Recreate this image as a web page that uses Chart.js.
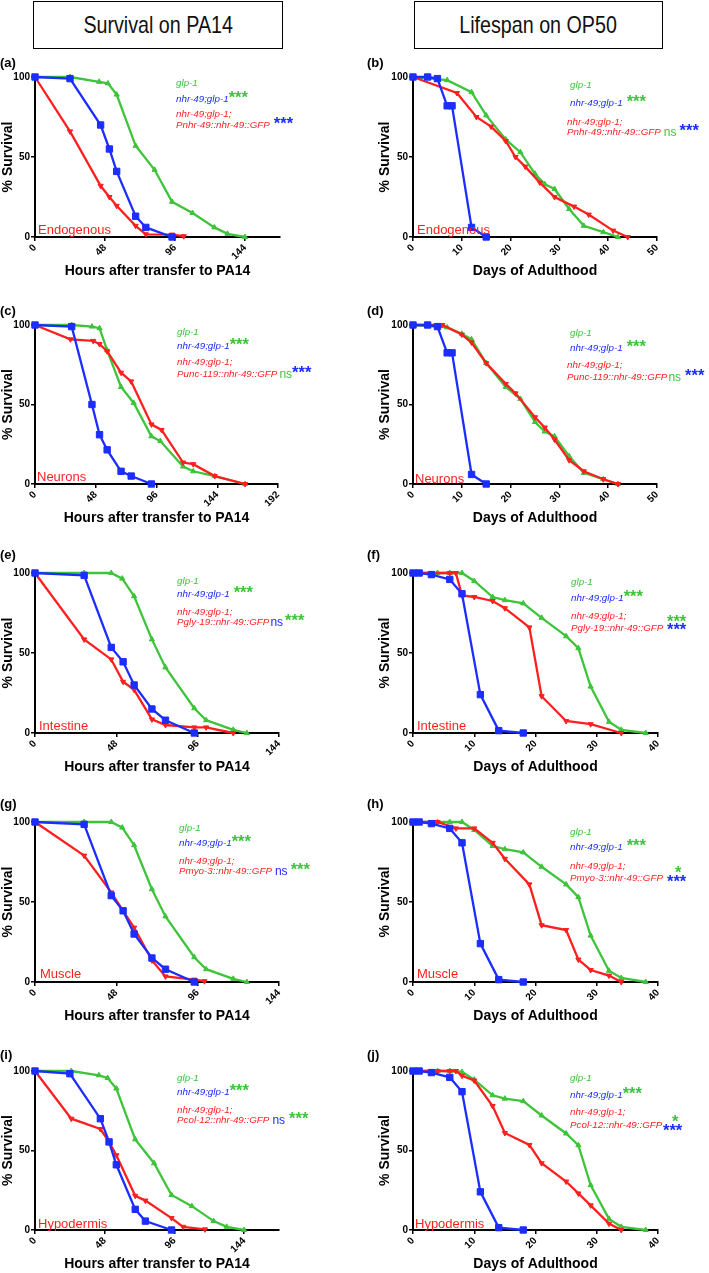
<!DOCTYPE html>
<html><head><meta charset="utf-8">
<script src="https://cdn.jsdelivr.net/npm/chart.js@4/dist/chart.umd.min.js"></script>
<style>
body{margin:0;width:709px;height:1273px;background:#fff;position:relative;overflow:hidden;font-family:"Liberation Sans",Arial,sans-serif;}
.hdr{position:absolute;box-sizing:border-box;border:1.5px solid #000;display:flex;align-items:center;justify-content:center;}
.hdr span{display:inline-block;font-family:"Liberation Sans",Arial,sans-serif;font-size:24px;color:#111;transform:scaleX(0.82);white-space:nowrap;}
canvas{position:absolute;}
.p{position:absolute;white-space:nowrap;line-height:1;}
.lg{font-style:italic;font-size:9.8px;}
.st{font-weight:bold;font-size:16.5px;}
.ns{font-size:12px;}
.tis{font-size:13px;color:#ff1f1f;}
.pl{font-size:13px;font-weight:bold;color:#000;}
</style>
</head><body>
<div class="hdr" style="left:33px;top:1px;width:250px;height:48px;"><span>Survival on PA14</span></div>
<div class="hdr" style="left:414px;top:1px;width:249px;height:48px;"><span>Lifespan on OP50</span></div>
<script>
// ---------------- data ----------------
const PA14_TICKS_144 = [0, 48, 96, 144];
const PA14_TICKS_192 = [0, 48, 96, 144, 192];
const OP50_TICKS_50 = [0, 10, 20, 30, 40, 50];
const OP50_TICKS_40 = [0, 10, 20, 30, 40];
const Y_TICKS = [0, 50, 100];

const STRAINS = ['glp-1', 'nhr-49;glp-1', 'nhr-49;glp-1;'];
const TISSUES = ['Endogenous', 'Neurons', 'Intestine', 'Muscle', 'Hypodermis'];
const TRANSGENES = ['Pnhr-49::nhr-49::GFP', 'Punc-119::nhr-49::GFP', 'Pgly-19::nhr-49::GFP', 'Pmyo-3::nhr-49::GFP', 'Pcol-12::nhr-49::GFP'];

// (a) PA14, endogenous
const A_GLP1_X = [0, 24, 44, 50, 56, 69, 82, 94, 108, 123, 132, 144];
const A_GLP1_Y = [100, 100, 97, 96, 89, 57, 42, 22, 15, 6, 2, 0];
const A_NHR_X = [0, 24, 45, 51, 56, 69, 76, 94];
const A_NHR_Y = [100, 99, 70, 55, 41, 13, 6, 0];
const A_RES_X = [0, 24, 45, 51, 56, 69, 76, 94, 102];
const A_RES_Y = [100, 66, 32, 25, 19.5, 7, 1.7, 1.5, 0.5];
// (b) OP50, endogenous
const B_GLP1_X = [0, 7, 12, 15, 19, 22, 25, 27, 29, 32, 35, 39, 42];
const B_GLP1_Y = [100, 98, 90.5, 76, 61, 53, 39.5, 33, 30, 17.5, 7, 3, 0];
const B_NHR_X = [0, 3, 5, 7, 8, 12, 15];
const B_NHR_Y = [100, 100, 99, 82, 82, 6, 0];
const B_RES_X = [0, 9, 13, 16, 19, 21, 23, 26, 29, 33, 36, 41, 44];
const B_RES_Y = [100, 90, 75, 69, 60, 50, 44, 34, 25, 19, 14, 4, 0];
// (c) PA14, neurons
const C_GLP1_X = [0, 29, 45, 51, 57, 68, 78, 92, 99, 117, 125, 142, 166];
const C_GLP1_Y = [100, 100, 99, 98, 84, 61, 51, 30, 27, 11, 8, 5, 0];
const C_NHR_X = [0, 29, 45, 51, 57, 68, 76, 92];
const C_NHR_Y = [100, 99, 50, 31, 21.5, 8, 5, 0];
const C_RES_X = [0, 28, 46, 51, 57, 68, 76, 92, 100, 117, 125, 142, 166];
const C_RES_Y = [100, 91, 90, 88, 83.5, 70, 64.5, 37.5, 34, 13.5, 12.5, 5, 0];
// (d) OP50, neurons
const D_GLP1_X = [0, 7, 10, 12, 15, 19, 22, 25, 27, 29, 32, 35, 39, 42];
const D_GLP1_Y = [100, 98.5, 94.5, 91, 76, 61, 53.5, 39, 33, 30, 17.5, 7, 3, 0];
const D_NHR_X = [0, 3, 5, 7, 8, 12, 15];
const D_NHR_Y = [100, 100, 99, 82.5, 82.5, 6, 0];
const D_RES_X = [0, 6, 10, 12, 15, 19, 21, 25, 27, 29, 32, 35, 39, 42];
const D_RES_Y = [100, 100, 94, 89, 76, 63, 57, 42, 35.5, 28, 15, 8, 3, 0];
// (e) PA14, intestine
const E_GLP1_X = [0, 29, 45, 51.5, 58.5, 69, 77, 94, 101, 117, 125];
const E_GLP1_Y = [100, 100, 100, 96.5, 85.5, 58.5, 41, 15.5, 8, 2, 0];
const E_NHR_X = [0, 29, 45, 52, 58.5, 69, 77, 94];
const E_NHR_Y = [100, 98.5, 53.5, 44.5, 30, 15, 8, 0];
const E_RES_X = [0, 29, 45, 52, 58.5, 69, 77, 94, 101, 117];
const E_RES_Y = [100, 58.5, 46, 32, 27, 8.5, 5, 3.5, 3.5, 0];
// (f) OP50, intestine
const F_GLP1_X = [0, 4, 6, 8, 10, 13, 15, 18, 21, 25, 27, 29, 32, 34, 38];
const F_GLP1_Y = [100, 100, 100, 100, 95, 85, 83, 81, 72, 60.5, 53, 29, 7, 2, 0];
const F_NHR_X = [0, 1, 3, 6, 8, 11, 14, 18];
const F_NHR_Y = [100, 100, 99, 96, 87, 24, 1.5, 0];
const F_RES_X = [0, 6, 7, 8, 10, 13, 15, 19, 21, 25, 29, 34];
const F_RES_Y = [100, 100, 100, 86, 85, 82.5, 78, 66, 23, 7.5, 5.5, 0];
// (g) PA14, muscle
const G_GLP1_X = [0, 29, 45, 51.5, 58.5, 69, 77, 94, 101, 117, 125];
const G_GLP1_Y = [100, 100, 100, 96.5, 85.5, 58, 41, 15.5, 8, 2, 0];
const G_NHR_X = [0, 29, 45, 52, 58.5, 69, 77, 94];
const G_NHR_Y = [100, 98.5, 54, 44.5, 30, 15, 8, 0];
const G_RES_X = [0, 29, 45, 52, 58.5, 69, 77, 94, 100];
const G_RES_Y = [100, 79, 56, 44.5, 34, 13.5, 3.5, 1.5, 0.5];
// (h) OP50, muscle
const H_GLP1_X = [0, 4, 6, 8, 10, 13, 15, 18, 21, 25, 27, 29, 32, 34, 38];
const H_GLP1_Y = [100, 100, 100, 100, 95, 85, 83, 81, 72, 61, 53, 29, 7, 2.5, 0];
const H_NHR_X = [0, 1, 3, 6, 8, 11, 14, 18];
const H_NHR_Y = [100, 100, 99, 96, 87, 24, 1.5, 0];
const H_RES_X = [0, 4, 7, 10, 13, 15, 19, 21, 25, 27, 29, 32, 34];
const H_RES_Y = [100, 100, 96, 96, 87, 77, 61, 35.5, 32.5, 14, 7.5, 4, 0];
// (i) PA14, hypodermis
const I_GLP1_X = [0, 25, 44, 50, 56, 69, 82, 94, 108, 123, 132, 144];
const I_GLP1_Y = [100, 100, 97.3, 95.6, 89, 57, 42, 22, 15, 5.6, 2, 0];
const I_NHR_X = [0, 24, 45, 51, 56, 69, 76, 94];
const I_NHR_Y = [100, 98.3, 70, 55.4, 41, 13, 5.6, 0];
const I_RES_X = [0, 25, 45, 51, 56, 69, 76, 94, 102, 117];
const I_RES_Y = [100, 70, 63.5, 55.4, 47, 21.5, 18.5, 7.5, 2, 0.4];
// (j) OP50, hypodermis
const J_GLP1_X = [0, 4, 6, 8, 10, 13, 15, 18, 21, 25, 27, 29, 32, 34, 38];
const J_GLP1_Y = [100, 100, 100, 99.4, 94.6, 84.7, 82.6, 81, 72, 60.7, 53.3, 28.2, 7, 2, 0];
const J_NHR_X = [0, 1, 3, 6, 8, 11, 14, 18];
const J_NHR_Y = [100, 100, 99, 96, 87, 24, 1.5, 0];
const J_RES_X = [0, 4, 6, 7, 8, 10, 13, 15, 19, 21, 25, 27, 29, 32, 34];
const J_RES_Y = [100, 100, 100, 100, 97, 94, 78, 61, 53.5, 42, 30.5, 23, 15.5, 4, 0];

// ---------------- styling / layout ----------------
const GRN = '#3dc43a', BLU = '#1b2dff', RED = '#ff1f1f';
const FF = '"Liberation Sans", Arial, sans-serif';
const COLS = [{cl: 0, cw: 354, l: 35, ytx: 8}, {cl: 354, cw: 355, l: 413, ytx: 385}];
const ROWS = [{t: 77, b: 237}, {t: 325, b: 484}, {t: 573, b: 733}, {t: 822, b: 982}, {t: 1071, b: 1230}];

function makePanel(col, row, right, xmax, xticks, xtitle, gx, gy, nx, ny, rx, ry) {
  const C = COLS[col], R = ROWS[row];
  const lh = 14 * 1.2;
  const canvasTop = R.t - 20;
  const canvasBottom = R.b + 35 + lh / 2;
  const H = Math.round(canvasBottom - canvasTop);
  const cv = document.createElement('canvas');
  cv.width = C.cw; cv.height = H;
  cv.style.left = C.cl + 'px'; cv.style.top = canvasTop + 'px';
  cv.style.width = C.cw + 'px'; cv.style.height = H + 'px';
  document.body.appendChild(cv);
  const padLeft = Math.max(0, C.ytx - lh / 2 - C.cl);
  const yW = C.l - C.cl - padLeft;
  const xH = canvasTop + H - R.b;
  const ds = (xs, ys, c, ps, r, rot) => ({
    data: xs.map((v, i) => ({x: v, y: ys[i]})),
    borderColor: c, backgroundColor: c, pointBackgroundColor: c, pointBorderColor: c,
    borderWidth: 2.3, pointStyle: ps, pointRadius: r, pointHoverRadius: r, pointRotation: rot,
    pointBorderWidth: 1, clip: false, tension: 0, fill: false
  });
  const axisCommon = {
    grid: {drawOnChartArea: false, drawTicks: true, tickLength: 4, color: '#000', lineWidth: 1.5},
    border: {display: true, color: '#000', width: 2},
  };
  new Chart(cv, {
    type: 'line',
    data: {datasets: [
      ds(nx, ny, BLU, 'rect', 4.5, 0),
      ds(rx, ry, RED, 'triangle', 3, 180),
      ds(gx, gy, GRN, 'triangle', 3, 0)
    ]},
    options: {
      responsive: false, animation: false, devicePixelRatio: 1,
      layout: {padding: {left: padLeft, top: R.t - canvasTop, right: C.cl + C.cw - right, bottom: 0}},
      plugins: {legend: {display: false}, tooltip: {enabled: false}},
      scales: {
        x: Object.assign({}, axisCommon, {
          type: 'linear', min: 0, max: xmax,
          afterBuildTicks: sc => { sc.ticks = xticks.map(v => ({value: v})); },
          afterFit: sc => { sc.height = xH; },
          ticks: {autoSkip: false, minRotation: 45, maxRotation: 45, color: '#000', padding: 1,
                  font: {size: 10, weight: 'bold', family: FF}},
          title: {display: true, text: xtitle, color: '#000', padding: 0,
                  font: {size: 14, weight: 'bold', family: FF}}
        }),
        y: Object.assign({}, axisCommon, {
          type: 'linear', min: 0, max: 100,
          afterBuildTicks: sc => { sc.ticks = Y_TICKS.map(v => ({value: v})); },
          afterFit: sc => { sc.width = yW; },
          ticks: {color: '#000', padding: 1, font: {size: 10, weight: 'bold', family: FF}},
          title: {display: true, text: '% Survival', color: '#000', padding: 0,
                  font: {size: 14, weight: 'bold', family: FF}}
        })
      }
    }
  });
}

// text helpers
function put(x, y, text, cls, color, shift) {
  const d = document.createElement('div');
  d.className = 'p ' + cls;
  d.textContent = text;
  d.style.color = color;
  d.style.left = x + 'px';
  d.style.top = y + 'px';
  d.style.transform = 'translateY(' + (shift === undefined ? -50 : shift) + '%)';
  document.body.appendChild(d);
  return d;
}
// star glyph centred on y
function star(x, y, text, color) { return put(x, y, text, 'st', color, -41); }
// parts: [text, cls, color, gap]
function line(x, y, parts) {
  let cx = x;
  parts.forEach(p => {
    const [t, cls, c, gap] = p;
    cx += gap || 0;
    const d = cls === 'st' ? star(cx, y - 3.5, t, c) : put(cx, y, t, cls, c, -50);
    cx += d.getBoundingClientRect().width;
  });
}

const XT_PA = 'Hours after transfer to PA14';
const XT_OP = 'Days of Adulthood';

makePanel(0, 0, 280, 168, PA14_TICKS_144, XT_PA, A_GLP1_X, A_GLP1_Y, A_NHR_X, A_NHR_Y, A_RES_X, A_RES_Y);
makePanel(1, 0, 657, 50, OP50_TICKS_50, XT_OP, B_GLP1_X, B_GLP1_Y, B_NHR_X, B_NHR_Y, B_RES_X, B_RES_Y);
makePanel(0, 1, 278, 192, PA14_TICKS_192, XT_PA, C_GLP1_X, C_GLP1_Y, C_NHR_X, C_NHR_Y, C_RES_X, C_RES_Y);
makePanel(1, 1, 657, 50, OP50_TICKS_50, XT_OP, D_GLP1_X, D_GLP1_Y, D_NHR_X, D_NHR_Y, D_RES_X, D_RES_Y);
makePanel(0, 2, 279, 144, PA14_TICKS_144, XT_PA, E_GLP1_X, E_GLP1_Y, E_NHR_X, E_NHR_Y, E_RES_X, E_RES_Y);
makePanel(1, 2, 658, 40, OP50_TICKS_40, XT_OP, F_GLP1_X, F_GLP1_Y, F_NHR_X, F_NHR_Y, F_RES_X, F_RES_Y);
makePanel(0, 3, 279, 144, PA14_TICKS_144, XT_PA, G_GLP1_X, G_GLP1_Y, G_NHR_X, G_NHR_Y, G_RES_X, G_RES_Y);
makePanel(1, 3, 658, 40, OP50_TICKS_40, XT_OP, H_GLP1_X, H_GLP1_Y, H_NHR_X, H_NHR_Y, H_RES_X, H_RES_Y);
makePanel(0, 4, 279, 168, PA14_TICKS_144, XT_PA, I_GLP1_X, I_GLP1_Y, I_NHR_X, I_NHR_Y, I_RES_X, I_RES_Y);
makePanel(1, 4, 658, 40, OP50_TICKS_40, XT_OP, J_GLP1_X, J_GLP1_Y, J_NHR_X, J_NHR_Y, J_RES_X, J_RES_Y);

// panel letters
const LETTERS = [['(a)', 0, 62], ['(b)', 367, 62], ['(c)', 0, 310], ['(d)', 367, 310], ['(e)', 0, 554],
                 ['(f)', 367, 554], ['(g)', 0, 803], ['(h)', 367, 803], ['(i)', 0, 1054], ['(j)', 367, 1054]];
LETTERS.forEach(l => put(l[1], l[2], l[0], 'pl', '#000'));

// tissue labels
const TIS_POS = [[38, 229], [417, 229], [37, 476], [415, 478], [39, 725], [417, 725], [40, 973], [417, 973], [38, 1223], [415, 1223]];
TIS_POS.forEach((p, i) => put(p[0], p[1], TISSUES[Math.floor(i / 2)], 'tis', RED));

// legends
const S3 = '***';
// (a)
line(176, 83, [[STRAINS[0], 'lg', GRN]]);
line(176, 99, [[STRAINS[1], 'lg', BLU], [S3, 'st', GRN, 0]]);
line(176, 114, [[STRAINS[2], 'lg', RED]]);
line(176, 125, [[TRANSGENES[0], 'lg', RED], [S3, 'st', BLU, 4]]);
// (b)
line(570, 85, [[STRAINS[0], 'lg', GRN]]);
line(570, 103, [[STRAINS[1], 'lg', BLU], [S3, 'st', GRN, 4]]);
line(567, 122, [[STRAINS[2], 'lg', RED]]);
line(567, 132, [[TRANSGENES[0], 'lg', RED], ['ns', 'ns', GRN, 3], [S3, 'st', BLU, 3]]);
// (c)
line(177, 332, [[STRAINS[0], 'lg', GRN]]);
line(177, 346, [[STRAINS[1], 'lg', BLU], [S3, 'st', GRN, 0]]);
line(177, 362, [[STRAINS[2], 'lg', RED]]);
line(177, 374, [[TRANSGENES[1], 'lg', RED], ['ns', 'ns', GRN, 2], [S3, 'st', BLU, 0]]);
// (d)
line(570, 333, [[STRAINS[0], 'lg', GRN]]);
line(570, 348, [[STRAINS[1], 'lg', BLU], [S3, 'st', GRN, 4]]);
line(567, 365, [[STRAINS[2], 'lg', RED]]);
line(567, 377, [[TRANSGENES[1], 'lg', RED], ['ns', 'ns', GRN, 1], [S3, 'st', BLU, 4]]);
// (e)
line(177, 581, [[STRAINS[0], 'lg', GRN]]);
line(177, 594, [[STRAINS[1], 'lg', BLU], [S3, 'st', GRN, 4]]);
line(177, 612, [[STRAINS[2], 'lg', RED]]);
line(177, 622, [[TRANSGENES[2], 'lg', RED], ['ns', 'ns', BLU, 1], [S3, 'st', GRN, 2]]);
// (f)
line(571, 582, [[STRAINS[0], 'lg', GRN]]);
line(571, 598, [[STRAINS[1], 'lg', BLU], [S3, 'st', GRN, 0]]);
line(571, 616, [[STRAINS[2], 'lg', RED]]);
line(571, 628, [[TRANSGENES[2], 'lg', RED]]);
star(667, 620, S3, GRN);
star(667, 628, S3, BLU);
// (g)
line(179, 828, [[STRAINS[0], 'lg', GRN]]);
line(179, 843, [[STRAINS[1], 'lg', BLU], [S3, 'st', GRN, 0]]);
line(179, 861, [[STRAINS[2], 'lg', RED]]);
line(179, 871, [[TRANSGENES[3], 'lg', RED], ['ns', 'ns', BLU, 3], [S3, 'st', GRN, 3]]);
// (h)
line(570, 832, [[STRAINS[0], 'lg', GRN]]);
line(570, 847, [[STRAINS[1], 'lg', BLU], [S3, 'st', GRN, 4]]);
line(570, 866, [[STRAINS[2], 'lg', RED]]);
line(570, 878, [[TRANSGENES[3], 'lg', RED]]);
star(675, 871, '*', GRN);
star(667, 880, S3, BLU);
// (i)
line(177, 1078, [[STRAINS[0], 'lg', GRN]]);
line(177, 1092, [[STRAINS[1], 'lg', BLU], [S3, 'st', GRN, 0]]);
line(177, 1110, [[STRAINS[2], 'lg', RED]]);
line(177, 1120, [[TRANSGENES[4], 'lg', RED], ['ns', 'ns', BLU, 3], [S3, 'st', GRN, 4]]);
// (j)
line(570, 1078, [[STRAINS[0], 'lg', GRN]]);
line(570, 1095, [[STRAINS[1], 'lg', BLU], [S3, 'st', GRN, 0]]);
line(570, 1112, [[STRAINS[2], 'lg', RED]]);
line(570, 1125, [[TRANSGENES[4], 'lg', RED]]);
star(672, 1120, '*', GRN);
star(663, 1129, S3, BLU);
</script>
</body></html>
